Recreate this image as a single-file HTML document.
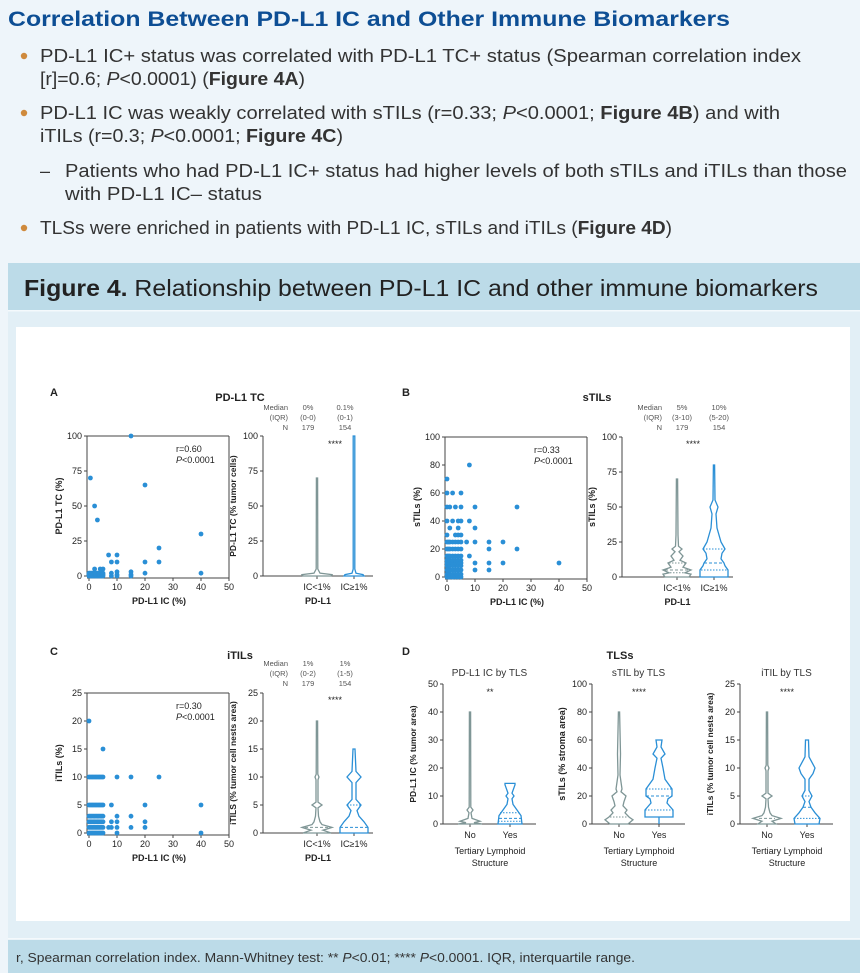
<!DOCTYPE html>
<html><head><meta charset="utf-8"><style>
html,body{margin:0;padding:0;background:#eef5fa;}
svg{display:block;font-family:"Liberation Sans",sans-serif;}
</style></head><body>
<svg id="s" width="860" height="973" xmlns="http://www.w3.org/2000/svg">
<rect x="0" y="0" width="860" height="973" fill="#eef5fa"/>
<text x="8" y="26" font-size="21" font-weight="bold" fill="#0d4e94" textLength="722" lengthAdjust="spacingAndGlyphs">Correlation Between PD-L1 IC and Other Immune Biomarkers</text>
<g fill="#cf8a3c"><circle cx="24" cy="56" r="3.2"/><circle cx="24" cy="113" r="3.2"/><circle cx="24" cy="228" r="3.2"/></g>
<g font-size="18" fill="#333">
<text x="40" y="62" textLength="761" lengthAdjust="spacingAndGlyphs">PD-L1 IC+ status was correlated with PD-L1 TC+ status (Spearman correlation index</text>
<text x="40" y="85" textLength="265" lengthAdjust="spacingAndGlyphs">[r]=0.6; <tspan font-style="italic">P</tspan>&lt;0.0001) (<tspan font-weight="bold">Figure 4A</tspan>)</text>
<text x="40" y="119" textLength="740" lengthAdjust="spacingAndGlyphs">PD-L1 IC was weakly correlated with sTILs (r=0.33; <tspan font-style="italic">P</tspan>&lt;0.0001; <tspan font-weight="bold">Figure 4B</tspan>) and with</text>
<text x="40" y="142" textLength="303" lengthAdjust="spacingAndGlyphs">iTILs (r=0.3; <tspan font-style="italic">P</tspan>&lt;0.0001; <tspan font-weight="bold">Figure 4C</tspan>)</text>
<text x="40" y="177">–</text>
<text x="65" y="177" textLength="782" lengthAdjust="spacingAndGlyphs">Patients who had PD-L1 IC+ status had higher levels of both sTILs and iTILs than those</text>
<text x="65" y="200" textLength="197" lengthAdjust="spacingAndGlyphs">with PD-L1 IC– status</text>
<text x="40" y="234" textLength="632" lengthAdjust="spacingAndGlyphs">TLSs were enriched in patients with PD-L1 IC, sTILs and iTILs (<tspan font-weight="bold">Figure 4D</tspan>)</text>
</g>
<rect x="8" y="263" width="852" height="710" fill="#e2eff6"/>
<rect x="8" y="263" width="852" height="47" fill="#bcdbe8"/>
<rect x="8" y="310" width="852" height="1.5" fill="#f4f9fc"/>
<text x="24" y="296" font-size="23" fill="#222" textLength="794" lengthAdjust="spacingAndGlyphs"><tspan font-weight="bold">Figure 4.</tspan> Relationship between PD-L1 IC and other immune biomarkers</text>
<rect x="16" y="327" width="834" height="594" fill="#fff"/>
<rect x="8" y="938" width="852" height="1.5" fill="#f4f9fc"/>
<rect x="8" y="940" width="852" height="33" fill="#bcdbe8"/>
<text x="16" y="962" font-size="12.5" fill="#333" textLength="619" lengthAdjust="spacingAndGlyphs">r, Spearman correlation index. Mann-Whitney test: ** <tspan font-style="italic">P</tspan>&lt;0.01; **** <tspan font-style="italic">P</tspan>&lt;0.0001. IQR, interquartile range.</text>
<g id="charts"></g>
</svg>
<script>
var g=document.getElementById('charts');var out='';
var BL='#2a8fd6',GR='#7f9696',AX='#444';
function t(x,y,s,o){o=o||{};out+='<text x="'+x+'" y="'+y+'" font-size="'+(o.fs||9)+'" fill="'+(o.c||'#222')+'" text-anchor="'+(o.a||'middle')+'"'+(o.b?' font-weight="bold"':'')+(o.r?' transform="rotate(-90 '+x+' '+y+')"':'')+'>'+s+'</text>';}
function ln(x1,y1,x2,y2,c,w,d){out+='<line x1="'+x1+'" y1="'+y1+'" x2="'+x2+'" y2="'+y2+'" stroke="'+(c||AX)+'" stroke-width="'+(w||1)+'"'+(d?' stroke-dasharray="'+d+'"':'')+'/>';}
function yaxis(x,y0,y1,ticks,max){ln(x,y0,x,y1);ticks.forEach(function(v){var y=y0-(y0-y1)*v/max;ln(x-3,y,x,y);t(x-5,y+3,v,{a:'end',fs:9});});}
function scatter(x0,y0,x1,y1,ymax,yt,pts,ylab,r,p){
 yaxis(x0-2,y0,y1,yt,ymax);ln(x0-2,y0+2,x1,y0+2);ln(x0-2,y1,x1,y1);ln(x1,y1,x1,y0+2);
 [0,10,20,30,40,50].forEach(function(v){var x=x0+(x1-x0)*v/50;ln(x,y0+2,x,y0+5);t(x,y0+14,v);});
 pts.forEach(function(q){out+='<circle cx="'+(x0+(x1-x0)*q[0]/50)+'" cy="'+(y0-(y0-y1)*q[1]/ymax)+'" r="2.4" fill="'+BL+'"/>';});
 t((x0+x1)/2,y0+28,'PD-L1 IC (%)',{b:1});t(x0-27,(y0+y1)/2,ylab,{b:1,r:1});
 t(x1-53,y1+16,'r='+r,{a:'start'});t(x1-53,y1+27,'<tspan font-style="italic">P</tspan>&lt;0.0001',{a:'start'});
}
function violin(cx,y0,y1,max,prof,col,lines){
 var R=[],L=[];prof.forEach(function(q){var y=y0-(y0-y1)*q[0]/max;R.push((cx+q[1])+','+y);L.unshift((cx-q[1])+','+y);});
 out+='<polygon points="'+R.concat(L).join(' ')+'" fill="none" stroke="'+col+'" stroke-width="1.3"/>';
 (lines||[]).forEach(function(m){var y=y0-(y0-y1)*m[0]/max;ln(cx-m[1],y,cx+m[1],y,col,1,m[2]);});
}
function vaxis(x,y0,y1,x2,max,yt,lab,labs,xlab){yaxis(x,y0,y1,yt,max);ln(x,y0,x2,y0);
 labs.forEach(function(l){ln(l[0],y0,l[0],y0+3);t(l[0],y0+14,l[1]);});
 t(x-27,(y0+y1)/2,lab,{b:1,r:1,fs:lab.length>22?8.5:9});
 if(xlab)t((x+x2)/2,y0+28,xlab,{b:1});}
function hdr(x,y,a,b,c){var o={c:'#555',fs:7.5};t(x,y,'Median',Object.assign({a:'end'},o));t(x,y+10,'(IQR)',Object.assign({a:'end'},o));t(x,y+20,'N',Object.assign({a:'end'},o));
 t(x+20,y,a[0],o);t(x+20,y+10,a[1],o);t(x+20,y+20,'179',o);t(x+57,y,b[0],o);t(x+57,y+10,b[1],o);t(x+57,y+20,'154',o);}
function rng(xs,ys){var r=[];xs.forEach(function(x){ys.forEach(function(y){r.push([x,y]);});});return r;}
// Panel A
t(50,396,'A',{b:1,fs:11,a:'start'});t(240,401,'PD-L1 TC',{b:1,fs:11});
var pa=rng([0,0.5,1,1.5,2,2.5,3,3.5,4,4.5,5],[0,1,2]).concat([[0.5,70],[2,50],[3,40],[15,100],[20,65],[40,30],[40,2],[25,20],[25,10],[20,10],[20,2],[15,3],[15,1],[15,0],[10,15],[10,10],[10,3],[10,1],[10,0],[7,15],[8,10],[8,2],[8,0],[5,5],[4,5],[2,5],[4.5,4]]);
scatter(89,576,229,436,100,[0,25,50,75,100],pa,'PD-L1 TC (%)','0.60');
hdr(288,410,['0%','(0-0)'],['0.1%','(0-1)']);
vaxis(263,576,436,373,100,[0,25,50,75,100],'PD-L1 TC (% tumor cells)',[[317,'IC&lt;1%'],[354,'IC≥1%']],'PD-L1');
t(335,447,'****',{fs:9});
violin(317,576,436,100,[[0,0],[0,14],[1,15],[2,3],[5,0.8],[70,0.6]],GR);
violin(354,576,436,100,[[0,0],[0,10],[1,9],[2,2],[5,0.8],[100,0.8]],BL);
// Panel B
t(402,396,'B',{b:1,fs:11,a:'start'});t(597,401,'sTILs',{b:1,fs:11});
var pb=rng([0,0.5,1,2,3,4,5],[0,2,5,8,10,12,15,20,25]).concat([[0,30],[0,40],[0,50],[0,60],[0,70],[1,35],[1,50],[2,40],[2,60],[3,30],[3,50],[4,30],[4,35],[4,40],[5,30],[5,40],[5,50],[5,60],[8,80],[8,40],[8,15],[10,50],[10,35],[10,25],[10,10],[10,5],[7,25],[15,25],[15,20],[15,10],[15,5],[20,25],[20,10],[25,50],[25,20],[40,10],[2,0]]);
scatter(447,577,587,437,100,[0,20,40,60,80,100],pb,'sTILs (%)','0.33');
hdr(662,410,['5%','(3-10)'],['10%','(5-20)']);
vaxis(622,577,437,733,100,[0,25,50,75,100],'sTILs (%)',[[677,'IC&lt;1%'],[714,'IC≥1%']],'PD-L1');
t(693,447,'****',{fs:9});
violin(677,577,437,100,[[0,0],[0,12],[2,14],[3,8],[5,14],[7,6],[10,9],[12,3],[15,6],[18,2],[20,5],[22,1.5],[30,1],[70,0.6]],GR,[[3,10,'1.5 1.5'],[5,12,'3 2'],[10,8,'1.5 1.5']]);
violin(714,577,437,100,[[0,0],[0,14],[5,14],[8,11],[10,10],[13,7],[17,8],[20,11],[25,7],[35,3],[45,2],[50,4],[55,1],[80,0.6]],BL,[[5,13,'1.5 1.5'],[10,10,'3 2'],[20,11,'1.5 1.5']]);
// Panel C
t(50,655,'C',{b:1,fs:11,a:'start'});t(240,659,'iTILs',{b:1,fs:11});
var pc=rng([0,0.5,1,1.5,2,2.5,3,3.5,4,4.5,5],[0,1,2,3,5,10]).concat([[0,20],[5,15],[8,5],[10,10],[15,10],[25,10],[40,5],[40,0],[10,3],[10,2],[10,1],[10,0],[15,3],[15,1],[20,5],[20,2],[20,1],[7,1],[8,2],[8,1]]);
scatter(89,833,229,693,25,[0,5,10,15,20,25],pc,'iTILs (%)','0.30');
hdr(288,666,['1%','(0-2)'],['1%','(1-5)']);
vaxis(263,833,693,373,25,[0,5,10,15,20,25],'iTILS (% tumor cell nests area)',[[317,'IC&lt;1%'],[354,'IC≥1%']],'PD-L1');
t(335,703,'****',{fs:9});
violin(317,833,693,25,[[0,0],[0,14],[0.5,6],[1,15],[1.5,5],[2,3],[3,1.5],[4.5,1],[5,5],[5.5,1],[9.5,1],[10,2],[10.5,0.8],[20,0.6]],GR,[[1,12,'3 2']]);
violin(354,833,693,25,[[0,0],[0,14],[1,14],[2,10],[3,5],[4,3],[5,7],[6,2],[9,2],[10,7],[11,2],[15,1]],BL,[[1,14,'3 2'],[5,7,'1.5 1.5']]);
// Panel D
t(402,655,'D',{b:1,fs:11,a:'start'});t(620,659,'TLSs',{b:1,fs:11});
function dplot(ax,x2,max,yt,title,lab,star,g1,g2,l1,l2){
 t((ax+x2)/2,676,title,{fs:10,c:'#333'});
 vaxis(ax,824,684,x2,max,yt,lab,[[ax+27,'No'],[ax+67,'Yes']]);
 t(ax+47,854,'Tertiary Lymphoid');t(ax+47,866,'Structure');
 t(ax+47,695,star,{fs:9});
 violin(ax+27,824,684,max,g1,GR,l1);violin(ax+67,824,684,max,g2,BL,l2);
}
dplot(443,536,50,[0,10,20,30,40,50],'PD-L1 IC by TLS','PD-L1 IC (% tumor area)','**',
 [[0,0],[0,12],[0.5,4],[1,10],[2,2],[4,1],[5,3],[6,0.8],[40,0.6]],
 [[0,0],[0,12],[3,11],[5,7],[7,3],[9,2],[10,4],[11,2],[14,5],[14.5,5]],null,[[1,12,'1.5 1.5'],[2,11,'3 2'],[4,10,'1.5 1.5']]);
dplot(592,685,100,[0,20,40,60,80,100],'sTIL by TLS','sTILs (% stroma area)','****',
 [[0,0],[0,9],[3,14],[5,10],[8,6],[10,8],[13,4],[16,5],[20,7],[23,2],[25,3],[35,1],[50,1.5],[80,0.6]],
 [[0,0],[5,0],[5,14],[10,14],[15,8],[18,9],[20,13],[25,13],[32,6],[40,4],[47,2],[50,6],[55,2],[60,3],[60,0]],[[5,9,'1.5 1.5']],[[10,14,'1.5 1.5'],[20,13,'3 2'],[25,13,'1.5 1.5']]);
dplot(740,833,25,[0,5,10,15,20,25],'iTIL by TLS','iTILs (% tumor cell nests area)','****',
 [[0,0],[0,9],[0.5,5],[1,14],[1.5,5],[2,3],[3,1.5],[4.5,1],[5,5],[5.5,1],[9.5,1],[10,2],[10.5,0.8],[20,0.6]],
 [[0,0],[0,12],[1,13],[2,8],[3,4],[4,2],[5,5],[6,2],[8,2],[9,6],[10,8],[11,5],[12,2],[15,1.5]],[[1,8,'3 2']],[[1,13,'1.5 1.5'],[3,4,'3 2'],[5,5,'1.5 1.5']]);
g.innerHTML=out;
</script>
</body></html>
